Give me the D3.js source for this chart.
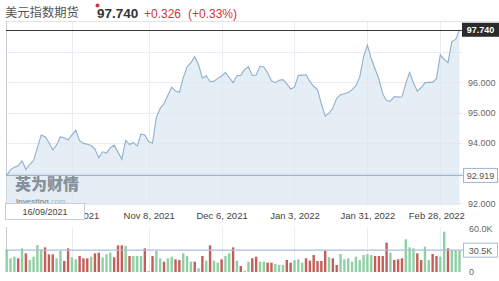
<!DOCTYPE html>
<html lang="zh">
<head>
  <meta charset="UTF-8">
  <title>美元指数期货</title>
  <style>
    body { margin: 0; background: #fff; font-family: "Liberation Sans", Arial, sans-serif; }
    svg { display: block; }
  </style>
</head>
<body>
  <div id="chart"></div>

  <script src="https://d3js.org/d3.v7.min.js"></script>
  <script>
    // closing prices, one per trading day from 16/09/2021
    const closes = [
      92.919, 93.11, 93.19, 93.24, 93.40, 93.12, 93.28, 93.41, 93.84, 94.26,
      94.20, 94.01, 93.76, 93.93, 94.20, 94.16, 94.09, 94.26, 94.41, 94.07,
      93.98, 93.95, 93.91, 93.79, 93.50, 93.70, 93.66, 93.83, 93.92, 93.69,
      93.45, 94.08, 93.94, 94.01, 93.89, 94.29, 94.26, 94.03, 93.99, 94.84,
      95.14, 95.29, 95.57, 95.84, 95.71, 95.67, 96.15, 96.51, 96.65, 96.85,
      96.58, 96.14, 96.22, 96.02, 96.04, 96.13, 96.21, 96.32, 96.16, 95.99,
      96.22, 96.23, 96.43, 96.51, 96.23, 96.24, 96.53, 96.51, 96.32, 96.05,
      95.99, 96.07, 96.09, 95.95, 95.78, 95.84, 96.23, 96.24, 96.25, 96.03,
      95.87, 95.76, 95.29, 94.88, 94.98, 95.15, 95.47, 95.59, 95.62, 95.66,
      95.76, 95.89, 96.18, 96.84, 97.23, 96.79, 96.44, 96.11, 95.61, 95.40,
      95.38, 95.53, 95.51, 95.52, 95.96, 96.33, 95.98, 95.71, 95.82, 95.99,
      96.00, 96.00, 96.12, 96.91, 96.76, 96.65, 97.35, 97.42, 97.74
    ];

    // volume in thousands
    const volumes = [
      31.6, 19.1, 21.4, 19.1, 33.0, 26.0, 16.7, 21.4, 37.7, 31.6,
      34.4, 24.6, 24.6, 19.1, 29.3, 15.3, 33.0, 20.5, 17.7, 22.3,
      19.1, 19.1, 21.4, 26.0, 27.0, 20.5, 24.6, 27.0, 20.5, 37.2,
      37.2, 36.3, 22.3, 22.3, 22.3, 22.3, 33.0, 0.8, 22.3, 29.3,
      19.1, 14.4, 19.1, 21.4, 17.7, 16.7, 26.0, 22.3, 14.4, 14.4,
      5.1, 22.3, 15.8, 37.2, 15.8, 13.0, 17.7, 22.3, 26.0, 34.4,
      15.8, 8.4, 1.9, 14.4, 19.1, 21.4, 14.4, 14.4, 13.0, 13.0,
      11.2, 9.8, 9.8, 16.7, 13.0, 16.7, 17.7, 13.0, 19.1, 15.8,
      23.7, 15.3, 15.3, 29.8, 20.5, 19.1, 9.8, 25.1, 17.7, 19.1,
      14.4, 21.4, 16.7, 23.7, 25.1, 23.7, 22.3, 22.3, 22.3, 41.0,
      27.0, 16.7, 17.7, 19.1, 45.6, 34.4, 33.0, 26.0, 16.7, 35.3,
      16.7, 25.1, 22.3, 21.4, 56.3, 33.0, 30.7, 30.7, 30.5
    ];

    // 1 = up day (green), -1 = down day (red)
    const volDir = [
       1, 1, 1,-1, 1,-1, 1, 1, 1, 1,
      -1,-1,-1, 1, 1,-1,-1, 1, 1,-1,
      -1,-1, 1,-1,-1, 1, 1, 1,-1,-1,
      -1, 1,-1, 1, 1, 1,-1,-1,-1, 1,
       1,-1, 1, 1,-1,-1, 1, 1, 1,-1,
       1,-1, 1,-1, 1, 1,-1, 1, 1,-1,
       1,-1, 1, 1,-1,-1, 1, 1,-1,-1,
       1, 1, 1,-1,-1, 1, 1, 1,-1,-1,
      -1,-1,-1,-1, 1,-1,-1, 1, 1, 1,
       1, 1, 1, 1, 1, 1,-1,-1,-1,-1,
       1,-1,-1,-1, 1, 1, 1,-1,-1, 1,
       1,-1,-1, 1, 1,-1, 1, 1, 1
    ];

    const startDate = "2021-09-16";
    const holidays = ["2021-11-25", "2021-12-24", "2022-01-17", "2022-02-21"];
    const dateTicks = ["2021-10-11", "2021-11-08", "2021-12-06", "2022-01-03", "2022-01-31", "2022-02-28"];
    const priceTicks = [92, 94, 95, 96];
    const volTicks = [0, 60];

    const title = "美元指数期货";
    const lastPrice = "97.740";
    const change = "+0.326";
    const changePct = "(+0.33%)";

    // trading days
    const fmtKey = d3.timeFormat("%Y-%m-%d");
    const parse = d3.timeParse("%Y-%m-%d");
    const dates = [];
    let day = parse(startDate);
    while (dates.length < closes.length) {
      const wd = day.getDay();
      const key = fmtKey(day);
      if (wd !== 0 && wd !== 6 && !holidays.includes(key)) dates.push(key);
      day = d3.timeDay.offset(day, 1);
    }

    const W = 499, H = 281;
    const plot = { left: 6, right: 463, top: 21, bottom: 205 };
    const vol = { top: 224, bottom: 272 };

    const svg = d3.select("#chart").append("svg")
      .attr("width", W).attr("height", H)
      .style("font-family", "'Liberation Sans', Arial, sans-serif");

    const x = d3.scalePoint().domain(dates).range([6.7, 459.5]);
    const y = d3.scaleLinear().domain([91.94, 98.03]).range([plot.bottom, plot.top]);
    const yv = d3.scaleLinear().domain([0, 60]).range([vol.bottom, 229]);

    // header
    const head = svg.append("g");
    head.append("text").attr("x", 5).attr("y", 17)
      .attr("font-family", "'Noto Sans CJK SC', sans-serif")
      .attr("font-size", 12.3).attr("fill", "#555").text(title);
    head.append("circle").attr("cx", 97.5).attr("cy", 5.5).attr("r", 2).attr("fill", "#e0303a");
    head.append("text").attr("x", 97).attr("y", 17.5)
      .attr("font-size", 13.5).attr("font-weight", "bold").attr("fill", "#333").text(lastPrice);
    head.append("text").attr("x", 144).attr("y", 17.5)
      .attr("font-size", 12).attr("fill", "#d0343a").text(change);
    head.append("text").attr("x", 188).attr("y", 17.5)
      .attr("font-size", 12).attr("fill", "#d0343a").text(changePct);

    // frame
    svg.append("line").attr("x1", 5).attr("x2", 499).attr("y1", plot.top + 0.5).attr("y2", plot.top + 0.5)
      .attr("stroke", "#e4e4e4");
    svg.append("line").attr("x1", plot.left + 0.5).attr("x2", plot.left + 0.5)
      .attr("y1", plot.top).attr("y2", plot.bottom).attr("stroke", "#c8ccd2");
    svg.append("line").attr("x1", plot.left + 0.5).attr("x2", plot.left + 0.5)
      .attr("y1", vol.top + 3).attr("y2", vol.bottom).attr("stroke", "#c8ccd2");

    // area + line
    const area = d3.area()
      .x((d, i) => x(dates[i])).y0(plot.bottom).y1(d => y(d));
    const line = d3.line()
      .x((d, i) => x(dates[i])).y(d => y(d));

    svg.append("path").datum(closes).attr("d", area).attr("fill", "#e6eef5");

    // grid
    const grid = svg.append("g").attr("stroke", "#dfe6ee").attr("stroke-opacity", 0.7);
    grid.selectAll("line.h").data(d3.range(92, 98)).enter().append("line")
      .attr("x1", plot.left + 1).attr("x2", plot.right)
      .attr("y1", d => Math.round(y(d)) + 0.5).attr("y2", d => Math.round(y(d)) + 0.5);
    grid.selectAll("line.v").data(dateTicks).enter().append("line")
      .attr("x1", d => Math.round(x(d)) + 0.5).attr("x2", d => Math.round(x(d)) + 0.5)
      .attr("y1", plot.top + 1).attr("y2", plot.bottom);
    grid.selectAll("line.vv").data(dateTicks).enter().append("line")
      .attr("x1", d => Math.round(x(d)) + 0.5).attr("x2", d => Math.round(x(d)) + 0.5)
      .attr("y1", vol.top + 3).attr("y2", vol.bottom);

    svg.append("path").datum(closes).attr("d", line)
      .attr("fill", "none").attr("stroke", "#8fb0cf").attr("stroke-width", 1.1);

    // watermark
    const wm = svg.append("g").attr("opacity", 0.8);
    wm.append("text").attr("x", 15).attr("y", 190)
      .attr("font-family", "'Noto Sans CJK SC', sans-serif").attr("font-weight", "900")
      .attr("font-size", 16).attr("fill", "#6f7b88").attr("letter-spacing", 0).text("英为财情");
    wm.append("text").attr("x", 16).attr("y", 203.5)
      .attr("font-size", 7.5).attr("font-weight", "bold").attr("fill", "#6f7b88")
      .text("Investing").append("tspan").attr("font-weight", "normal").attr("fill", "#a0a6ad").text(".com");

    // reference lines
    const first = closes[0], last = closes[closes.length - 1];
    svg.append("line").attr("x1", plot.left).attr("x2", plot.right + 2)
      .attr("y1", y(first)).attr("y2", y(first)).attr("stroke", "#9db7d2").attr("stroke-width", 1.2);
    svg.append("line").attr("x1", plot.left).attr("x2", plot.right)
      .attr("y1", Math.round(y(last)) + 0.5).attr("y2", Math.round(y(last)) + 0.5)
      .attr("stroke", "#3a3a3a").attr("stroke-width", 1.2);

    // right price axis
    const yAxis = d3.axisRight(y).tickValues(priceTicks).tickSize(0).tickPadding(5)
      .tickFormat(d3.format(".3f"));
    const gy = svg.append("g").attr("transform", `translate(${plot.right},0)`).call(yAxis);
    gy.select(".domain").remove();
    gy.selectAll("text").attr("font-size", 9).attr("fill", "#666")
      .attr("font-family", "'Liberation Sans', Arial, sans-serif");

    // price tags
    svg.append("rect").attr("x", 462).attr("y", y(last) - 7).attr("width", 37).attr("height", 14)
      .attr("fill", "#2b2b2b");
    svg.append("text").attr("x", 480.5).attr("y", y(last) + 3.5).attr("text-anchor", "middle")
      .attr("font-size", 9).attr("font-weight", "bold").attr("fill", "#fff").text(d3.format(".3f")(last));
    svg.append("rect").attr("x", 463.5).attr("y", y(first) - 7).attr("width", 34).attr("height", 14)
      .attr("fill", "#fff").attr("stroke", "#9db7d2");
    svg.append("text").attr("x", 480.5).attr("y", y(first) + 3.5).attr("text-anchor", "middle")
      .attr("font-size", 9).attr("fill", "#555").text(d3.format(".3f")(first));

    // date axis
    const xAxis = d3.axisBottom(x).tickValues(dateTicks).tickSize(0).tickPadding(0)
      .tickFormat(d => d3.timeFormat("%b %-d, %Y")(parse(d)));
    const gx = svg.append("g").attr("transform", `translate(0,${plot.bottom + 7})`).call(xAxis);
    gx.select(".domain").remove();
    gx.selectAll("text").attr("font-size", 9.5).attr("fill", "#444")
      .attr("font-family", "'Liberation Sans', Arial, sans-serif");
    gx.selectAll(".tick").filter(d => d === dateTicks[dateTicks.length - 1])
      .select("text").attr("dx", -4);

    // start date tag over the first tick
    svg.append("rect").attr("x", 5.5).attr("y", 203.5).attr("width", 79).attr("height", 16)
      .attr("fill", "#fff").attr("stroke", "#c9cdd3");
    svg.append("text").attr("x", 45).attr("y", 215).attr("text-anchor", "middle")
      .attr("font-size", 9).attr("fill", "#444")
      .text(d3.timeFormat("%d/%m/%Y")(parse(dates[0])));

    // volume bars
    svg.append("g").selectAll("rect").data(volumes).enter().append("rect")
      .attr("x", (d, i) => x(dates[i]) - 1.2)
      .attr("y", d => yv(d))
      .attr("width", 2.4)
      .attr("height", d => yv(0) - yv(d))
      .attr("fill", (d, i) => volDir[i] > 0 ? "#8fcfa4" : "#c55d58");

    const lastVol = volumes[volumes.length - 1];
    svg.append("line").attr("x1", plot.left).attr("x2", plot.right + 2)
      .attr("y1", yv(lastVol)).attr("y2", yv(lastVol)).attr("stroke", "#a9bfd8").attr("stroke-width", 1.1);

    const vAxis = d3.axisRight(yv).tickValues(volTicks).tickSize(0).tickPadding(6)
      .tickFormat(d => d === 0 ? "0" : d3.format(".1f")(d) + "K");
    const gv = svg.append("g").attr("transform", `translate(${plot.right},0)`).call(vAxis);
    gv.select(".domain").remove();
    gv.selectAll("text").attr("font-size", 9).attr("fill", "#666")
      .attr("font-family", "'Liberation Sans', Arial, sans-serif");

    svg.append("rect").attr("x", 463.5).attr("y", yv(lastVol) - 7).attr("width", 34).attr("height", 14)
      .attr("fill", "#fff").attr("stroke", "#a9bfd8");
    svg.append("text").attr("x", 480.5).attr("y", yv(lastVol) + 3.5).attr("text-anchor", "middle")
      .attr("font-size", 9).attr("fill", "#555").text(d3.format(".1f")(lastVol) + "K");
  </script>
</body>
</html>
